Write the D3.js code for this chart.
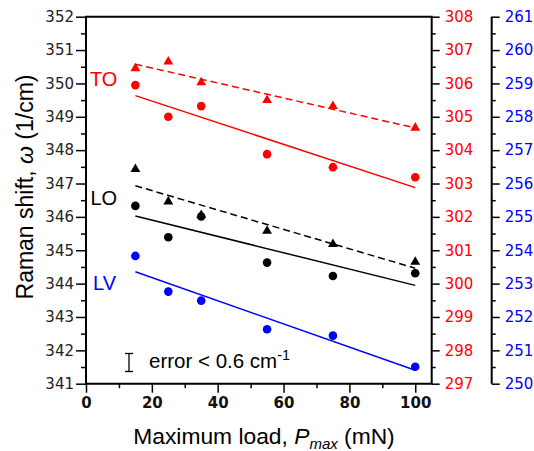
<!DOCTYPE html>
<html><head><meta charset="utf-8">
<script src="https://cdn.jsdelivr.net/npm/d3@7"></script>
<style>body{margin:0;background:#fff}svg{display:block}</style>
</head><body>
<svg id="c" width="534" height="451"></svg>
<script>
// ---- data ----
const loads = [15, 25, 35, 55, 75, 100];            // Maximum load (mN)
const toTriangles = [306.45, 306.65, 306.03, 305.50, 305.32, 304.67]; // red axis
const toCircles   = [305.95, 305.00, 305.32, 303.88, 303.49, 303.19]; // red axis
const loTriangles = [347.43, 346.46, 346.05, 345.58, 345.18, 344.65]; // left axis
const loCircles   = [346.33, 345.39, 346.01, 344.63, 344.23, 344.31]; // left axis
const lvCircles   = [253.83, 252.76, 252.49, 251.63, 251.44, 250.51]; // blue axis
const xTicks = [0, 20, 40, 60, 80, 100];
const xMinor = [10, 30, 50, 70, 90];
const leftTicks = d3.range(341, 353);
const redTicks = d3.range(297, 309);
const blueTicks = d3.range(250, 262);

// ---- layout ----
const L = 86, R = 431.7, T = 16.7, B = 383.7, BX = 491.7;
const svg = d3.select('#c');
const x = d3.scaleLinear().domain([0, 105]).range([L, R]);
const yL = d3.scaleLinear().domain([341, 352]).range([B, T]);
const yR = d3.scaleLinear().domain([297, 308]).range([B, T]);
const yB = d3.scaleLinear().domain([250, 261]).range([B, T]);

function fit(xs, ys) {
  const mx = d3.mean(xs), my = d3.mean(ys);
  let sxy = 0, sxx = 0;
  xs.forEach((v, i) => { sxy += (v - mx) * (ys[i] - my); sxx += (v - mx) * (v - mx); });
  const b = sxy / sxx;
  return v => my + b * (v - mx);
}

const tickFont = "DejaVu Sans, sans-serif";
function styleAxis(g, color, bold) {
  g.selectAll('.domain').remove();
  g.selectAll('line').attr('stroke', '#000').attr('stroke-width', 1.5);
  g.selectAll('text').attr('fill', color).style('font-family', tickFont)
    .style('font-size', '15px').style('font-weight', bold ? 'bold' : 'normal');
}

// minor ticks
const leftMinor = leftTicks.slice(0, -1).map(v => v + 0.5);
const redMinor = redTicks.slice(0, -1).map(v => v + 0.5);
const blueMinor = blueTicks.slice(0, -1).map(v => v + 0.5);

svg.append('g').attr('transform', `translate(${L},0)`)
  .call(d3.axisLeft(yL).tickValues(leftMinor).tickSize(5).tickFormat(''))
  .call(g => styleAxis(g, '#000'));
svg.append('g').attr('transform', `translate(${L},0)`)
  .call(d3.axisLeft(yL).tickValues(leftTicks).tickSize(10).tickPadding(2).tickFormat(d3.format('d')))
  .call(g => styleAxis(g, '#222'));

svg.append('g').attr('transform', `translate(${R},0)`)
  .call(d3.axisRight(yR).tickValues(redMinor).tickSize(4).tickFormat(''))
  .call(g => styleAxis(g, '#000'));
svg.append('g').attr('transform', `translate(${R},0)`)
  .call(d3.axisRight(yR).tickValues(redTicks).tickSize(8).tickPadding(5).tickFormat(d3.format('d')))
  .call(g => styleAxis(g, '#ff0000'));

svg.append('g').attr('transform', `translate(${BX},0)`)
  .call(d3.axisRight(yB).tickValues(blueMinor).tickSize(4).tickFormat(''))
  .call(g => styleAxis(g, '#000'));
svg.append('g').attr('transform', `translate(${BX},0)`)
  .call(d3.axisRight(yB).tickValues(blueTicks).tickSize(8).tickPadding(5).tickFormat(d3.format('d')))
  .call(g => styleAxis(g, '#0000ff'));

svg.append('g').attr('transform', `translate(0,${B})`)
  .call(d3.axisBottom(x).tickValues(xMinor).tickSize(4.5).tickFormat(''))
  .call(g => styleAxis(g, '#000'));
svg.append('g').attr('transform', `translate(0,${B})`)
  .call(d3.axisBottom(x).tickValues(xTicks).tickSize(9).tickPadding(5).tickFormat(d3.format('d')))
  .call(g => styleAxis(g, '#111', true));

// frame
const frame = svg.append('g').attr('stroke', '#000').attr('stroke-width', 2).attr('fill', 'none');
frame.append('path').attr('d', `M${L},${T}V${B}H${R}V${T}Z`);
frame.append('line').attr('x1', BX).attr('x2', BX).attr('y1', T).attr('y2', B);

// fit lines
const lineX = [loads[0], loads[loads.length - 1]];
function drawFit(ys, scale, color, dashed) {
  const f = fit(loads, ys);
  svg.append('line')
    .attr('x1', x(lineX[0])).attr('y1', scale(f(lineX[0])))
    .attr('x2', x(lineX[1])).attr('y2', scale(f(lineX[1])))
    .attr('stroke', color).attr('stroke-width', 1.5)
    .attr('stroke-dasharray', dashed ? '7,4' : null);
}
drawFit(toTriangles, yR, '#ff0000', true);
drawFit(toCircles, yR, '#ff0000', false);
drawFit(loTriangles, yL, '#000', true);
drawFit(loCircles, yL, '#000', false);
drawFit(lvCircles, yB, '#0000ff', false);

// points
function drawCircles(ys, scale, color) {
  svg.append('g').selectAll('circle').data(ys).join('circle')
    .attr('cx', (d, i) => x(loads[i])).attr('cy', d => scale(d))
    .attr('r', 4.3).attr('fill', color);
}
function drawTriangles(ys, scale, color) {
  const sym = d3.symbol().type(d3.symbolTriangle).size(42);
  svg.append('g').selectAll('path').data(ys).join('path')
    .attr('d', sym)
    .attr('transform', (d, i) => `translate(${x(loads[i])},${scale(d)})`)
    .attr('fill', color);
}
drawTriangles(toTriangles, yR, '#ff0000');
drawCircles(toCircles, yR, '#ff0000');
drawTriangles(loTriangles, yL, '#000');
drawCircles(loCircles, yL, '#000');
drawCircles(lvCircles, yB, '#0000ff');

// labels
const sans = "Liberation Sans, Arial, sans-serif";
const lab = (t, px, py, color) => svg.append('text').attr('x', px).attr('y', py)
  .attr('fill', color).style('font-family', sans).style('font-size', '20px').text(t);
lab('TO', 90, 86, '#ff0000');
lab('LO', 90.5, 205, '#000');
lab('LV', 93, 290, '#0000ff');

// error bar
const eb = svg.append('g').attr('stroke', '#000').attr('stroke-width', 1.3);
eb.append('line').attr('x1', 129).attr('x2', 129).attr('y1', 353.5).attr('y2', 371.5);
eb.append('line').attr('x1', 125).attr('x2', 133).attr('y1', 353.5).attr('y2', 353.5);
eb.append('line').attr('x1', 125).attr('x2', 133).attr('y1', 371.5).attr('y2', 371.5);
const et = svg.append('text').attr('x', 149).attr('y', 368).attr('fill', '#000')
  .style('font-family', sans).style('font-size', '20.5px');
et.append('tspan').text('error < 0.6 cm');
et.append('tspan').attr('dy', -8).style('font-size', '14.5px').text('-1');

// axis titles
const xt = svg.append('text').attr('x', 264).attr('y', 443.5).attr('text-anchor', 'middle')
  .attr('fill', '#000').style('font-family', sans).style('font-size', '22.8px');
xt.append('tspan').text('Maximum load, ');
xt.append('tspan').style('font-style', 'italic').text('P');
xt.append('tspan').attr('dy', 5).style('font-style', 'italic').style('font-size', '15px').text('max');
xt.append('tspan').attr('dy', -5).text(' (mN)');

const yt = svg.append('text').attr('transform', 'translate(33,187) rotate(-90)')
  .attr('text-anchor', 'middle').attr('fill', '#000')
  .style('font-family', sans).style('font-size', '23px');
yt.append('tspan').text('Raman shift, ');
yt.append('tspan').style('font-style', 'italic').text('ω');
yt.append('tspan').text(' (1/cm)');
</script>
</body></html>
